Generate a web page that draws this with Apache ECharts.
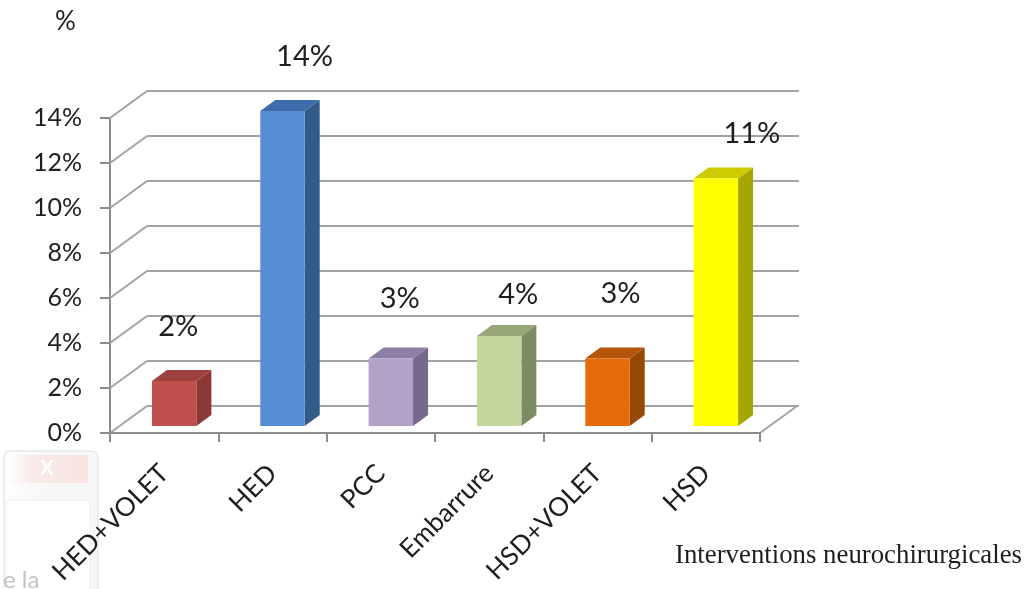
<!DOCTYPE html>
<html>
<head>
<meta charset="utf-8">
<script src="https://cdn.jsdelivr.net/npm/echarts@6/dist/echarts.min.js"></script>
<style>
  html, body { margin: 0; padding: 0; background: #ffffff; }
  #chart { width: 1029px; height: 589px; }
</style>
</head>
<body>
<div id="chart"></div>
<script>
// Interventions neurochirurgicales — share of each procedure (%)
const categories = ['HED+VOLET', 'HED', 'PCC', 'Embarrure', 'HSD+VOLET', 'HSD'];
const percentages = [2, 14, 3, 4, 3, 11];
const yTicks = [0, 2, 4, 6, 8, 10, 12, 14];

// Face colours for each column: front, side, top
const frontColors = ['#c0504d', '#558ed5', '#b3a2c7', '#c3d69b', '#e46c0a', '#ffff00'];
const sideColors  = ['#8c3836', '#345a8a', '#77688d', '#7f8c63', '#974706', '#a6a600'];
const topColors   = ['#9e413e', '#3f6dab', '#8d7ea3', '#98a878', '#b45408', '#cccc00'];

// Label placement relative to the top of each column (dx, dy)
const labelShift = [[4, -54], [22, -54], [9, -60], [19, -41], [13, -65], [36, -45]];

// Pseudo-3D geometry
const WALL_DX = 37, WALL_DY = -27;   // depth of the floor / back wall
const BAR_DX = 15, BAR_DY = -11;     // depth of a column
const BAR_IN_X = 10, BAR_IN_Y = -7;  // column set back from the front edge

const AXIS_GRAY = '#8c8c8c';
const GRID_GRAY = '#a3a3a3';
const TEXT = '#1e1e1e';
const SANS = 'Lato, "Open Sans", sans-serif';

const chart = echarts.init(document.getElementById('chart'), null, { renderer: 'canvas' });

function renderWall(params, api) {
  const v = api.value(1);
  const band = api.size([1, 0])[0];
  const p = api.coord([0, v]);
  const x = p[0] - band / 2;
  const lineStyle = { stroke: GRID_GRAY, lineWidth: 2 };
  const children = [{
    type: 'line',
    shape: { x1: x, y1: p[1], x2: x + WALL_DX, y2: p[1] + WALL_DY },
    style: lineStyle
  }];
  if (v === 0) {
    const q = api.coord([categories.length - 1, 0]);
    const xr = q[0] + band / 2;
    children.push({
      type: 'line',
      shape: { x1: xr, y1: q[1], x2: xr + WALL_DX, y2: q[1] + WALL_DY },
      style: lineStyle
    });
  }
  return { type: 'group', children };
}

function renderBar(params, api) {
  const i = api.value(0);
  const v = api.value(1);
  const band = api.size([1, 0])[0];
  const w = band * 0.41;
  const base = api.coord([i, 0]);
  const top = api.coord([i, v]);
  const cx = base[0] + BAR_IN_X;
  const by = base[1] + BAR_IN_Y;
  const ty = top[1] + BAR_IN_Y;
  const x0 = cx - w / 2, x1 = cx + w / 2;
  return {
    type: 'group',
    children: [
      {
        type: 'polygon',
        shape: { points: [[x1, ty], [x1 + BAR_DX, ty + BAR_DY], [x1 + BAR_DX, by + BAR_DY], [x1, by]] },
        style: { fill: sideColors[i] }
      },
      {
        type: 'polygon',
        shape: { points: [[x0, ty], [x0 + BAR_DX, ty + BAR_DY], [x1 + BAR_DX, ty + BAR_DY], [x1, ty]] },
        style: { fill: topColors[i] }
      },
      {
        type: 'rect',
        shape: { x: x0, y: ty, width: w, height: by - ty },
        style: { fill: frontColors[i] }
      },
      {
        type: 'text',
        style: {
          text: percentages[i] + '%',
          x: cx + labelShift[i][0],
          y: ty + labelShift[i][1],
          align: 'center',
          verticalAlign: 'middle',
          fill: TEXT,
          font: '29px ' + SANS
        }
      }
    ]
  };
}

chart.setOption({
  backgroundColor: '#ffffff',
  animation: false,
  title: [
    {
      text: '%',
      left: 50, top: 4,
      textStyle: { fontFamily: SANS, fontSize: 26, fontWeight: 'normal', color: TEXT }
    },
    {
      text: 'Interventions neurochirurgicales',
      left: 670, top: 537,
      textStyle: { fontFamily: '"Liberation Serif", "DejaVu Serif", serif', fontSize: 26.8, fontWeight: 'normal', color: TEXT }
    }
  ],
  grid: [
    { left: 110, top: 118, width: 650, height: 315 },                       // front plane
    { left: 110 + WALL_DX, top: 118 + WALL_DY, width: 652, height: 315 }    // back wall
  ],
  xAxis: [
    {
      gridIndex: 0,
      type: 'category',
      data: categories,
      z: 10,
      axisLine: { show: true, lineStyle: { color: AXIS_GRAY, width: 2 } },
      axisTick: { show: true, length: 9, lineStyle: { color: AXIS_GRAY, width: 2 } },
      axisLabel: { rotate: 45, margin: 36, fontFamily: SANS, fontSize: 26, color: TEXT, interval: 0 },
      splitLine: { show: false }
    },
    {
      gridIndex: 1,
      type: 'category',
      data: categories,
      show: false
    }
  ],
  yAxis: [
    {
      gridIndex: 0,
      type: 'value',
      min: 0, max: 14, interval: 2,
      axisLine: { show: true, lineStyle: { color: AXIS_GRAY, width: 2 } },
      axisTick: { show: true, length: 10, lineStyle: { color: AXIS_GRAY, width: 2 } },
      axisLabel: { margin: 28, fontFamily: SANS, fontSize: 25, color: TEXT, formatter: '{value}%' },
      splitLine: { show: false }
    },
    {
      gridIndex: 1,
      type: 'value',
      min: 0, max: 14, interval: 2,
      axisLine: { show: false },
      axisTick: { show: false },
      axisLabel: { show: false },
      splitLine: { show: true, lineStyle: { color: GRID_GRAY, width: 2 } }
    }
  ],
  graphic: [
    // faded window remnant in the lower-left corner
    {
      type: 'rect', z: -10,
      shape: { x: 4, y: 451, width: 94, height: 150, r: 6 },
      style: {
        fill: new echarts.graphic.LinearGradient(0, 0, 1, 0, [
          { offset: 0, color: 'rgba(255,255,255,1)' },
          { offset: 0.35, color: 'rgba(248,248,248,1)' },
          { offset: 1, color: 'rgba(246,246,246,1)' }
        ]),
        stroke: '#e8e8e8', lineWidth: 1.5
      }
    },
    {
      type: 'rect', z: -9,
      shape: { x: 6, y: 455, width: 82, height: 28, r: 3 },
      style: {
        fill: new echarts.graphic.LinearGradient(0, 0, 1, 0, [
          { offset: 0, color: '#ffffff' },
          { offset: 0.3, color: '#f9ebe9' },
          { offset: 1, color: '#f7e4e1' }
        ])
      }
    },
    {
      type: 'text', z: -8,
      style: { text: 'X', x: 47, y: 469, align: 'center', verticalAlign: 'middle', fill: '#ffffff', font: 'bold 20px ' + SANS }
    },
    {
      type: 'rect', z: -9,
      shape: { x: 6, y: 500, width: 84, height: 100 },
      style: { fill: '#ffffff', stroke: '#ededed', lineWidth: 1 }
    },
    {
      type: 'text', z: -8,
      style: { text: 'e la', x: 3, y: 580, verticalAlign: 'middle', fill: '#c4c4c4', font: '24px ' + SANS }
    }
  ],
  series: [
    {
      type: 'custom',
      name: 'wall',
      xAxisIndex: 0, yAxisIndex: 0,
      z: 1,
      silent: true,
      renderItem: renderWall,
      data: yTicks.map(t => [0, t])
    },
    {
      type: 'custom',
      name: 'Interventions',
      xAxisIndex: 0, yAxisIndex: 0,
      z: 5,
      renderItem: renderBar,
      data: percentages.map((v, i) => [i, v])
    }
  ]
});
</script>
</body>
</html>
